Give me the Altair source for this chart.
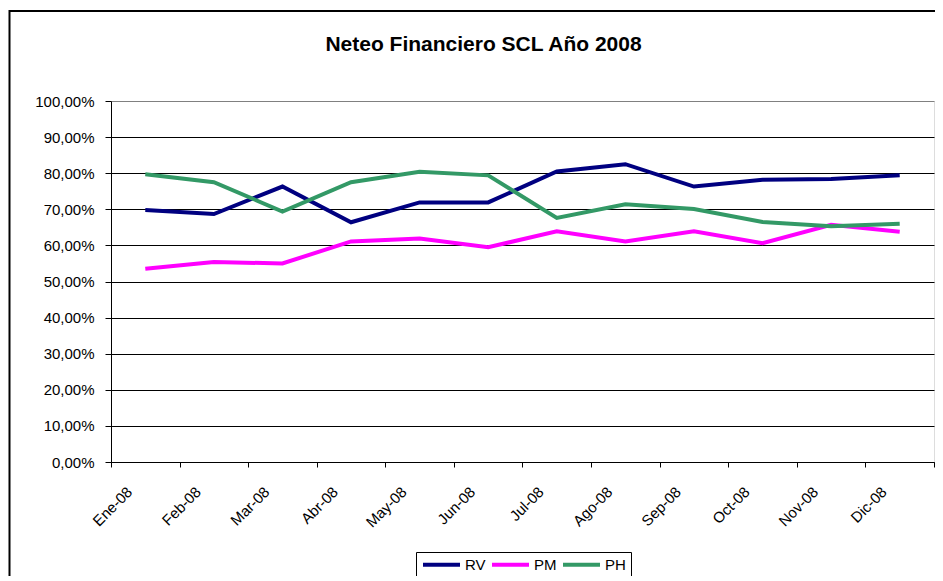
import altair as alt
import pandas as pd

months = ["Ene-08", "Feb-08", "Mar-08", "Abr-08", "May-08", "Jun-08",
          "Jul-08", "Ago-08", "Sep-08", "Oct-08", "Nov-08", "Dic-08"]
rv = [69.8, 68.7, 76.3, 66.4, 71.9, 71.9, 80.5, 82.5, 76.3, 78.2, 78.4, 79.4]
pm = [53.5, 55.4, 55.0, 61.1, 61.9, 59.5, 63.9, 61.1, 63.9, 60.6, 65.7, 63.8]
ph = [79.7, 77.5, 69.4, 77.5, 80.4, 79.4, 67.6, 71.4, 70.1, 66.5, 65.3, 66.0]
series_names = ["RV", "PM", "PH"]
series_colors = ["#000080", "#FF00FF", "#339966"]
y_ticks = [i / 10 for i in range(11)]

rows = []
for name, vals in zip(series_names, [rv, pm, ph]):
    for m, v in zip(months, vals):
        rows.append({"Mes": m, "Serie": name, "Valor": v / 100})
df = pd.DataFrame(rows)

FONT = "Liberation Sans"

lines = alt.Chart(df).mark_line(strokeWidth=4).encode(
    x=alt.X("Mes:N", sort=months, bandPosition=0.5,
            scale=alt.Scale(type="band", paddingInner=0, paddingOuter=0),
            axis=alt.Axis(title=None, labelAngle=315, labelAlign="right",
                          labelBaseline="top", labelOffset=-21, labelPadding=17,
                          tickBand="extent", tickSize=5, tickColor="black",
                          domainColor="black", grid=False, labelFontSize=15,
                          labelFont=FONT, labelColor="black")),
    y=alt.Y("Valor:Q", scale=alt.Scale(domain=[0, 1], nice=False),
            axis=alt.Axis(title=None, values=y_ticks,
                          labelExpr="replace(format(datum.value, '.2%'), '.', ',')",
                          tickSize=6, tickColor="black", domainColor="black",
                          gridColor={"condition": {"test": "datum.value >= 1", "value": "#808080"},
                                     "value": "black"},
                          gridWidth=1, labelFontSize=15, labelFont=FONT,
                          labelColor="black", labelPadding=11)),
    color=alt.Color("Serie:N", sort=series_names,
                    scale=alt.Scale(domain=series_names, range=series_colors),
                    legend=alt.Legend(title=None, orient="none", legendX=305, legendY=451,
                                      direction="horizontal", symbolType="stroke",
                                      symbolSize=1369, symbolStrokeWidth=4, clipHeight=15,
                                      labelFontSize=15, labelFont=FONT, labelColor="black",
                                      labelOffset=3, columnPadding=4, padding=5,
                                      strokeColor="black", fillColor="white")),
)

frame = alt.Chart(pd.DataFrame({"a": [0]})).mark_rect(
    fillOpacity=0, stroke="black", strokeWidth=2
).encode(
    x=alt.value(-101.5), x2=alt.value(860), y=alt.value(-90), y2=alt.value(520)
)

chart = alt.layer(frame, lines).properties(
    width=823, height=361,
    title=alt.TitleParams("Neteo Financiero SCL Año 2008", anchor="middle", frame="group",
                          dx=-39, offset=-45, fontSize=21, font=FONT, fontWeight="bold",
                          color="black"),
    autosize=alt.AutoSizeParams(type="none"),
    padding={"left": 103, "top": 93, "right": 1, "bottom": 114},
).configure_view(stroke="#808080", strokeWidth=1.5).configure(background="white")

chart.save("out.html", embed_options={"renderer": "svg", "actions": False})
